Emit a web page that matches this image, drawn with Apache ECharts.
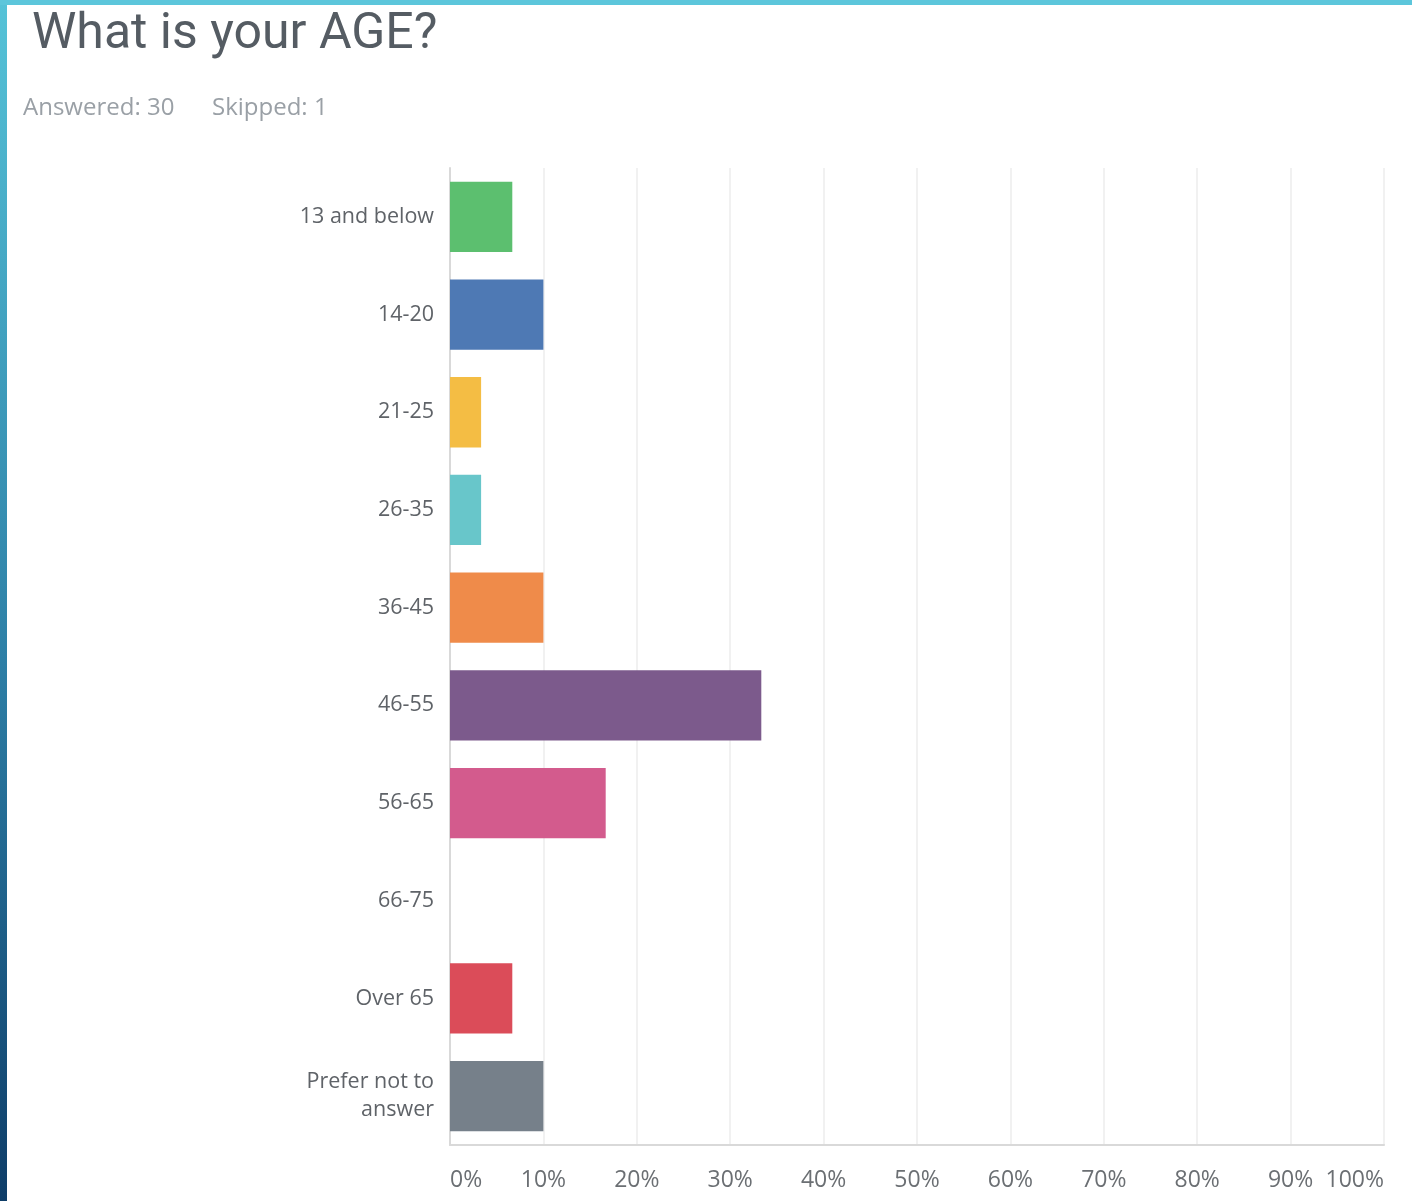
<!DOCTYPE html>
<html>
<head>
<meta charset="utf-8">
<script src="https://cdn.jsdelivr.net/npm/echarts@6/dist/echarts.min.js"></script>
<style>
html,body{margin:0;padding:0;background:#fff;}
#wrap{position:absolute;left:0;top:0;width:1412px;height:1201px;background:#fff;}
#lb{position:absolute;left:0;top:0;width:7px;height:1201px;background:linear-gradient(#55c3d8,#2d7fa6 55%,#0e3d68);}
#tb{position:absolute;left:0;top:0;width:1412px;height:5px;background:#5cc6db;}
#chart{position:absolute;left:0;top:0;width:1412px;height:1201px;}
</style>
</head>
<body>
<div id="wrap"><div id="chart"></div><div id="lb"></div><div id="tb"></div></div>
<script>
const categories = ['13 and below','14-20','21-25','26-35','36-45','46-55','56-65','66-75','Over 65','Prefer not to\nanswer'];
const values = [6.67, 10.00, 3.33, 3.33, 10.00, 33.33, 16.67, 0.00, 6.67, 10.00];
const barColors = ['#5cbf6f','#4e79b4','#f4bd44','#68c6ca','#ef8b4a','#7c5a8c','#d35b8d','#9bbf5c','#db4c59','#76808a'];
const xTicks = [0,10,20,30,40,50,60,70,80,90,100];

const chart = echarts.init(document.getElementById('chart'));
chart.setOption({
  animation:false,
  title:[
    {text:'What is your AGE?', left:27, top:5, textStyle:{fontFamily:'Roboto', fontSize:50, fontWeight:'normal', color:'#555c63'}},
    {text:'Answered: 30', left:18, top:91, textStyle:{fontFamily:'Open Sans', fontSize:24, fontWeight:'normal', color:'#9aa0a6'}},
    {text:'Skipped: 1', left:207, top:91, textStyle:{fontFamily:'Open Sans', fontSize:24, fontWeight:'normal', color:'#9aa0a6'}}
  ],
  grid:{left:450, right:28, top:168, bottom:56, containLabel:false},
  xAxis:{
    type:'value', min:0, max:100, interval:10,
    axisLine:{show:true, lineStyle:{color:'#d9d9d9', width:2}},
    axisTick:{show:false},
    splitLine:{show:true, lineStyle:{color:'#ececec', width:1.5}},
    axisLabel:{formatter:v=>xTicks.includes(v)?v+'%':'', color:'#6b6f73', fontSize:23, fontFamily:'Open Sans', margin:24, alignMinLabel:'left', alignMaxLabel:'right'}
  },
  yAxis:{
    type:'category', data:categories, inverse:true,
    axisLine:{show:true, lineStyle:{color:'#d9d9d9', width:2}},
    axisTick:{show:false},
    axisLabel:{color:'#5f6368', fontSize:21.5, fontFamily:'Open Sans', margin:16, lineHeight:28, align:'right'}
  },
  series:[{
    type:'bar', data:values.map((v,i)=>({value:v, itemStyle:{color:barColors[i]}})),
    barCategoryGap:'28%'
  }]
});
</script>
</body>
</html>
